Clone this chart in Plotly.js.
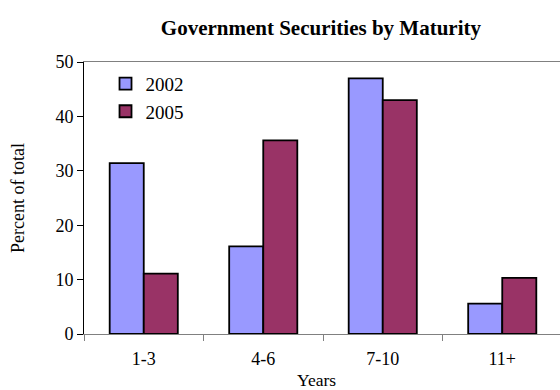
<!DOCTYPE html>
<html>
<head>
<meta charset="utf-8">
<script src="https://cdn.plot.ly/plotly-3.0.1.min.js"></script>
<style>html,body{margin:0;padding:0;overflow:hidden;background:#fff;}</style>
</head>
<body>
<div id="chart" style="width:562px;height:390px;"></div>
<script>
const categories = ["1-3", "4-6", "7-10", "11+"];
const values2002 = [31.4, 16.1, 47.0, 5.6];
const values2005 = [11.1, 35.6, 43.0, 10.3];
const seriesNames = ["2002", "2005"];

const serif = "Liberation Serif";
const traces = [
  {type: "bar", name: seriesNames[0], x: categories, y: values2002,
   marker: {color: "#9999FF", line: {color: "#000000", width: 1.8}}},
  {type: "bar", name: seriesNames[1], x: categories, y: values2005,
   marker: {color: "#993366", line: {color: "#000000", width: 1.8}}}
];
const layout = {
  width: 562, height: 390,
  margin: {l: 84, r: 0, t: 62, b: 56},
  paper_bgcolor: "#ffffff", plot_bgcolor: "#ffffff",
  font: {family: serif, size: 18, color: "#000000"},
  title: {text: "<b>Government Securities by Maturity</b>", x: 0.571, xanchor: "center", y: 0.928, yanchor: "middle",
          font: {family: serif, size: 21, color: "#000"}},
  barmode: "group", bargap: 0.43, bargroupgap: 0,
  showlegend: true,
  legend: {x: 0.045, y: 0.99, xanchor: "left", yanchor: "top", bgcolor: "rgba(0,0,0,0)",
           font: {family: serif, size: 19, color: "#000"}, tracegroupgap: 0, itemwidth: 30},
  xaxis: {type: "category", tickson: "boundaries", ticks: "outside", ticklen: 6, tickcolor: "#808080",
          showline: true, linecolor: "#808080", linewidth: 1, mirror: true, showgrid: false,
          ticklabelstandoff: 8,
          tickfont: {family: serif, size: 18, color: "#000"}, fixedrange: true},
  yaxis: {range: [0, 50], dtick: 10, ticks: "outside", ticklen: 6, tickcolor: "#000",
          showline: true, linecolor: "#000", linewidth: 1, showgrid: false, zeroline: false,
          tickfont: {family: serif, size: 18, color: "#000"},
          title: {text: "Percent of total", font: {family: serif, size: 18}, standoff: 26}},
  annotations: [{text: "Years", xref: "paper", yref: "paper", x: 0.487, y: -0.126, yanchor: "top",
                 showarrow: false, font: {family: serif, size: 17.5, color: "#000"}}]
};
Plotly.newPlot("chart", traces, layout, {displayModeBar: false, staticPlot: true});
</script>
</body>
</html>
